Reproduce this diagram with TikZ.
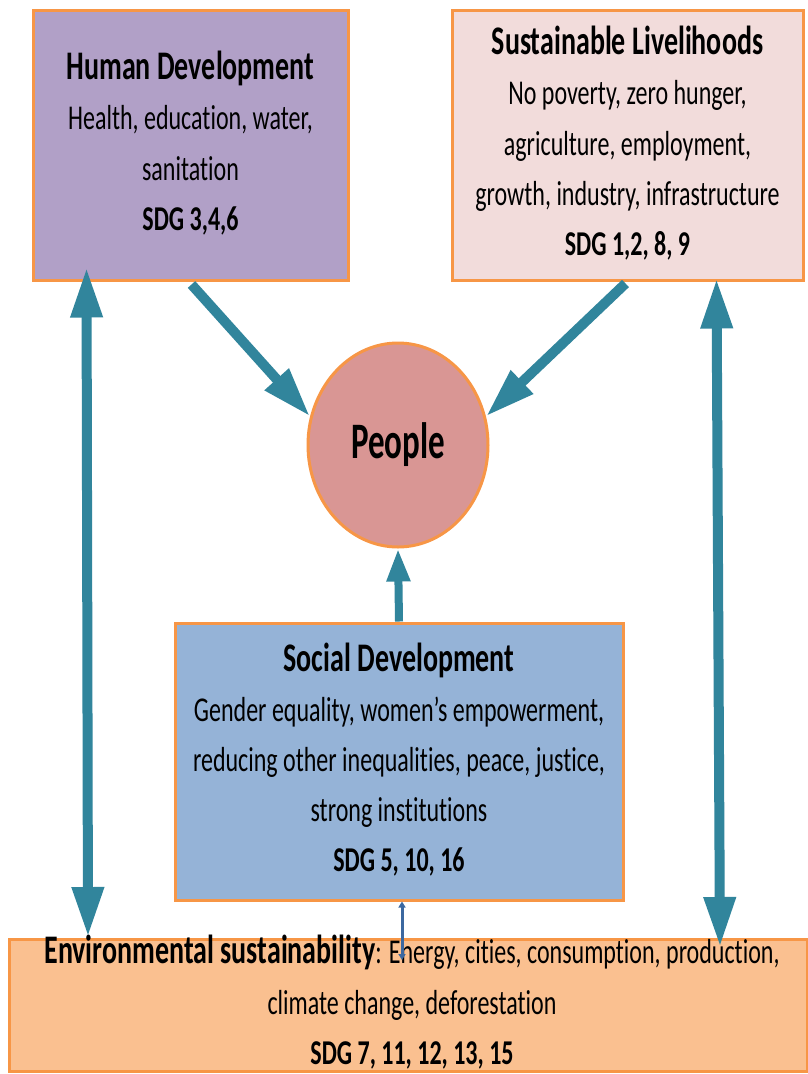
\documentclass[tikz,border=0pt]{standalone}
\usepackage{fontspec}
\setmainfont{Carlito}[Ligatures=NoCommon]
\usetikzlibrary{arrows.meta,shapes.geometric,calc}
\definecolor{bord}{HTML}{F79646}
\definecolor{hdfill}{HTML}{B1A0C7}
\definecolor{slfill}{HTML}{F2DCDB}
\definecolor{sdfill}{HTML}{95B3D7}
\definecolor{envfill}{HTML}{FAC090}
\definecolor{pplfill}{HTML}{D99694}
\definecolor{teal}{HTML}{31859C}
\definecolor{thinblue}{HTML}{3C68A0}
\newcommand\tallbox[1]{\scalebox{1}[1.45]{\fontsize{24}{34.5}\selectfont\begin{tabular}{@{}c@{}}#1\end{tabular}}}
\newcommand\ttl[1]{{\fontsize{28}{34.5}\selectfont\bfseries #1}}
\tikzset{
  box/.style={draw=bord, line width=3pt, rectangle, inner sep=0pt},
  bigarrow/.style={draw=teal, line width=10pt, -{Triangle[width=30pt,length=50pt]}},
  dblarrow/.style={draw=teal, line width=10pt, {Triangle[width=30pt,length=50pt]}-{Triangle[width=30pt,length=50pt]}},
  midarrow/.style={draw=teal, line width=8pt, -{Triangle[width=22pt,length=33pt]}},
  thinarrow/.style={draw=thinblue, line width=3pt, {Triangle[width=7pt,length=6pt]}-{Triangle[width=7pt,length=6pt]}}
}
\begin{document}
\begin{tikzpicture}[x=1pt,y=-1pt]
\fill[white] (0,0) rectangle (808,1074);
\useasboundingbox (0,0) rectangle (808,1074);

\node[box, fill=hdfill, minimum width=315pt, minimum height=270pt] (hd) at (190.5,145)
  {\tallbox{\ttl{Human Development}\\ Health, education, water,\\ sanitation\\ \textbf{SDG 3,4,6}}};

\node[box, fill=slfill, minimum width=351pt, minimum height=270pt] (sl) at (627.5,145)
  {\tallbox{\ttl{Sustainable Livelihoods}\\ No poverty, zero hunger,\\ agriculture, employment,\\ growth, industry, infrastructure\\ \textbf{SDG 1,2, 8, 9}}};

\node[draw=bord, line width=3pt, fill=pplfill, ellipse, minimum width=180pt, minimum height=204pt, inner sep=0pt] (ppl) at (398,445)
  {\scalebox{1}[1.55]{\fontsize{33}{40}\selectfont\bfseries People}};

\node[box, fill=sdfill, minimum width=448pt, minimum height=277pt] (sd) at (399,761.5)
  {\tallbox{\ttl{Social Development}\\ Gender equality, women’s empowerment,\\ reducing other inequalities, peace, justice,\\ strong institutions\\ \textbf{SDG 5, 10, 16}}};

\node[box, fill=envfill, minimum width=798pt, minimum height=132pt, anchor=north west] (env) at (8,938) {};
\node[anchor=center] (envtext) at (412,1004)
  {\tallbox{\ttl{Environmental sustainability}: Energy, cities, consumption, production,\\ climate change, deforestation\\ \textbf{SDG 7, 11, 12, 13, 15}}};

% arrows
\draw[bigarrow] ([xshift=160pt,yshift=-3pt]hd.south west) -- (ppl.162);
\draw[bigarrow] ([xshift=175pt,yshift=-2pt]sl.south west) -- (ppl.18);
\draw[dblarrow] ([xshift=55pt,yshift=14pt]hd.south west) -- ([xshift=80pt,yshift=1pt]env.north west);
\draw[dblarrow] ([xshift=266pt,yshift=3pt]sl.south west) -- ([xshift=712pt,yshift=-9pt]env.north west);
\draw[midarrow] (sd.north) -- (ppl.south);
\coordinate (tl) at ($(sd.south |- env.north)+(3,22)$);
\draw[thinarrow] ([xshift=3pt]sd.south) -- (tl);
\end{tikzpicture}
\end{document}
